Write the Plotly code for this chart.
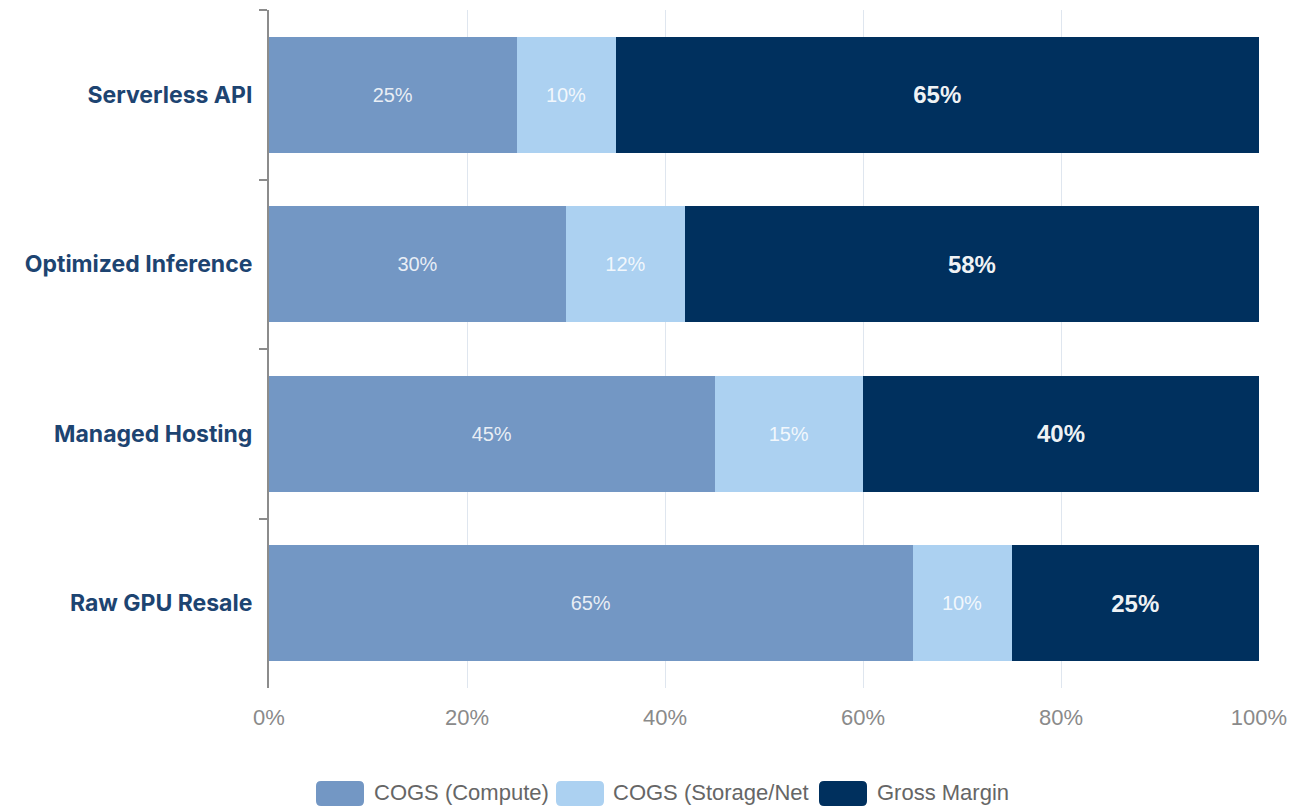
import plotly.graph_objects as go

# Revenue split per offering (percent of revenue)
categories = ["Serverless API", "Optimized Inference", "Managed Hosting", "Raw GPU Resale"]
cogs_compute = [25, 30, 45, 65]
cogs_storage = [10, 12, 15, 10]
gross_margin = [65, 58, 40, 25]

series_names = ["COGS (Compute)", "COGS (Storage/Network)", "Gross Margin"]
legend_labels = ["COGS (Compute)", "COGS (Storage/Net", "Gross Margin"]
colors = ["#7397c4", "#acd1f1", "#00305e"]
x_ticks = [0, 20, 40, 60, 80, 100]
x_tick_text = [f"{v}%" for v in x_ticks]

W, H = 1292, 808
M_L, M_R, M_T, M_B = 269, 33, 10, 120
PW, PH = W - M_L - M_R, H - M_T - M_B

BASE_FONT = "Liberation Sans, Arial, sans-serif"
LABEL_FONT = "Inter, Roboto, sans-serif"


def px_x(p):
    return (p - M_L) / PW


def px_y(p):
    return (H - M_B - p) / PH


fig = go.Figure()

small_font = dict(family=BASE_FONT, size=20, color="rgba(255,255,255,0.85)")
bold_font = dict(family=BASE_FONT, size=24, color="rgba(255,255,255,0.95)", weight="bold")

for name, vals, col, font in zip(
    series_names,
    [cogs_compute, cogs_storage, gross_margin],
    colors,
    [small_font, small_font, bold_font],
):
    fig.add_trace(
        go.Bar(
            y=categories,
            x=vals,
            name=name,
            orientation="h",
            marker=dict(color=col, line=dict(width=0)),
            text=[f"{v}%" for v in vals],
            texttemplate="%{text}",
            textposition="inside",
            insidetextanchor="middle",
            textangle=0,
            textfont=font,
            constraintext="none",
            showlegend=False,
        )
    )

# Legend drawn as rounded swatches with labels beneath the plot
def rounded_box(x0, y0, x1, y1, r):
    ax0, ax1 = px_x(x0), px_x(x1)
    ay0, ay1 = px_y(y0), px_y(y1)
    rx, ry = r / PW, r / PH
    return (
        f"M {ax0 + rx},{ay0} L {ax1 - rx},{ay0} Q {ax1},{ay0} {ax1},{ay0 - ry} "
        f"L {ax1},{ay1 + ry} Q {ax1},{ay1} {ax1 - rx},{ay1} "
        f"L {ax0 + rx},{ay1} Q {ax0},{ay1} {ax0},{ay1 + ry} "
        f"L {ax0},{ay0 - ry} Q {ax0},{ay0} {ax0 + rx},{ay0} Z"
    )


legend_box_x = [316, 556, 819]
legend_text_x = [375, 614, 878]
shapes = []
annotations = []
for i, lbl in enumerate(legend_labels):
    annotations.append(
        dict(
            x=px_x(legend_text_x[i]), y=px_y(793), xref="paper", yref="paper",
            text=lbl, showarrow=False, xanchor="left", yanchor="middle",
            xshift=-3,
            font=dict(family=BASE_FONT, size=22, color="#666666"),
        )
    )
for i, col in enumerate(colors):
    shapes.append(
        dict(
            type="path", xref="paper", yref="paper", layer="above",
            path=rounded_box(legend_box_x[i], 781, legend_box_x[i] + 48, 806, 5),
            fillcolor=col, line=dict(width=0),
        )
    )

fig.update_layout(
    width=W,
    height=H,
    margin=dict(l=M_L, r=M_R, t=M_T, b=M_B),
    barmode="stack",
    bargap=0.315,
    plot_bgcolor="white",
    paper_bgcolor="white",
    font=dict(family=BASE_FONT),
    shapes=shapes,
    annotations=annotations,
    xaxis=dict(
        range=[0, 100],
        tickvals=x_ticks,
        ticktext=x_tick_text,
        showgrid=True,
        gridcolor="#dfe6ef",
        gridwidth=1,
        zeroline=False,
        showline=False,
        ticks="outside",
        ticklen=10,
        tickcolor="rgba(0,0,0,0)",
        tickfont=dict(family=BASE_FONT, size=22, color="#8a8a8a"),
        automargin=False,
        fixedrange=True,
    ),
    yaxis=dict(
        autorange="reversed",
        showline=True,
        linecolor="#8c8c8c",
        linewidth=2,
        ticks="outside",
        tickson="boundaries",
        ticklen=8,
        tickwidth=2,
        tickcolor="#8c8c8c",
        showgrid=False,
        ticklabelstandoff=10,
        tickfont=dict(family=LABEL_FONT, size=23, color="#1d4471", weight="bold"),
        automargin=False,
        fixedrange=True,
    ),
)

fig.write_html("out.html")
